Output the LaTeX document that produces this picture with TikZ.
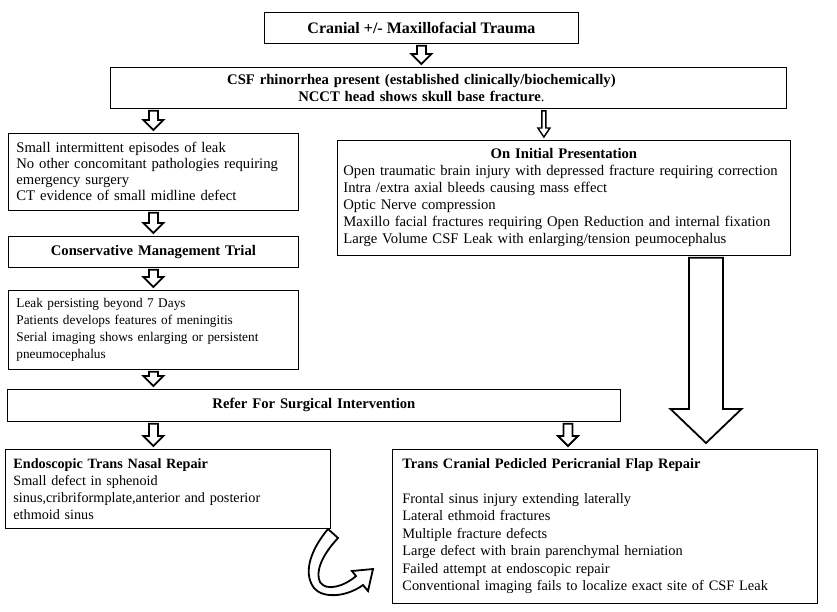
\documentclass[tikz,border=0pt]{standalone}
\usepackage{fontspec}
\setmainfont{Liberation Serif}
\usetikzlibrary{calc}

\tikzset{
  box/.style={draw, line width=0.8pt, anchor=north west, inner xsep=8pt, inner ysep=0pt, align=left},
  cbox/.style={box, align=center},
  blockarrow/.style n args={3}{draw, fill=white, line width=1.8pt, line join=miter,
    to path={let \p1=(\tikztostart), \p2=(\tikztotarget) in
      (\x1-#1,\y1-2pt) -- (\x1+#1,\y1-2pt) -- (\x1+#1,\y2+3pt+#3) -- (\x1+#2,\y2+3pt+#3)
      -- (\x1,\y2+3pt) -- (\x1-#2,\y2+3pt+#3) -- (\x1-#1,\y2+3pt+#3) -- cycle}},
  smallarrow/.style={blockarrow={4.5pt}{10pt}{10pt}},
}

\begin{document}
\begin{tikzpicture}[x=1pt, y=-1pt, font=\fontsize{14.67}{17}\selectfont]
   \useasboundingbox (0,0) rectangle (837,611);
   % top of the chart
   \path (264,12) node[cbox, minimum width=314pt, minimum height=31pt, font=\fontsize{16}{18}\selectfont] (trauma)
   {\textbf{Cranial +/- Maxillofacial Trauma}};
   \path (110,67) node[box, text width=660pt, minimum height=41pt] (csf)
   {\makebox[606pt]{\textbf{CSF rhinorrhea present (established clinically/biochemically)}}\\
    \makebox[606pt]{\textbf{NCCT head shows skull base fracture}.}};
   % left column
   \path (8,133) node[box, text width=274pt, minimum height=77pt, font=\fontsize{14.67}{16}\selectfont] (minor)
   {Small intermittent episodes of leak\\
    No other concomitant pathologies requiring\\
    emergency surgery\\
    CT evidence of small midline defect};
   \path (8,236) node[cbox, text width=274pt, minimum height=31pt] (conserv)
   {\textbf{Conservative Management Trial}};
   \path (8,290) node[box, text width=274pt, minimum height=79pt, font=\fontsize{13.3}{17}\selectfont] (persist)
   {Leak persisting beyond 7 Days\\
    Patients develops features of meningitis\\
    Serial imaging shows enlarging or persistent\\
    pneumocephalus};
   \path (7,389) node[cbox, text width=597pt, minimum height=32pt] (refer)
   {\textbf{Refer For Surgical Intervention}};
   % right column
   \path (337,140) node[box, inner xsep=6pt, text width=441pt, minimum height=115pt] (initial)
   {\makebox[441pt]{\textbf{On Initial Presentation}}\\
    Open traumatic brain injury with depressed fracture requiring correction\\
    Intra /extra axial bleeds causing mass effect\\
    Optic Nerve compression\\
    Maxillo facial fractures requiring Open Reduction and internal fixation\\
    Large Volume CSF Leak with enlarging/tension peumocephalus};
   % repairs
   \path (5,449) node[box, text width=309pt, minimum height=79pt, font=\fontsize{14.2}{17}\selectfont] (endo)
   {\textbf{Endoscopic Trans Nasal Repair}\\
    Small defect in sphenoid\\
    sinus,cribriformplate,anterior and posterior\\
    ethmoid sinus};
   \path (392,449) node[box, inner xsep=10pt, text width=405pt, minimum height=154pt, font=\fontsize{14.4}{17.5}\selectfont] (cranial)
   {\textbf{Trans Cranial Pedicled Pericranial Flap Repair}\\[17pt]
    Frontal sinus injury extending laterally\\
    Lateral ethmoid fractures\\
    Multiple fracture defects\\
    Large defect with brain parenchymal herniation\\
    Failed attempt at endoscopic repair\\
    Conventional imaging fails to localize exact site of CSF Leak};
   \coordinate (thin) at ($(initial.north)+(-20,0)$);
   \coordinate (crtop) at ($(cranial.north west)+(176,0)$);
   \coordinate (bigtip) at ($(cranial.north west)+(314,-3)$);
   % connectors
   \draw[smallarrow] (trauma.south) to (trauma.south |- csf.north);
   \draw[smallarrow] (csf.south -| minor.north) to (minor.north);
   \draw[blockarrow={2pt}{6pt}{9pt}, line width=1.4pt] (csf.south -| thin) to (thin);
   \draw[smallarrow] (minor.south) to (conserv.north);
   \draw[smallarrow] (conserv.south) to (persist.north);
   \draw[smallarrow] (persist.south) to (refer.north -| persist.north);
   \draw[smallarrow] (refer.south -| minor.south) to (endo.north -| minor.south);
   \draw[smallarrow] (refer.south -| crtop) to (crtop);
   \draw[blockarrow={17pt}{35.5pt}{34pt}] (initial.south -| bigtip) to (bigtip);
   % curved arrow
   \draw[line width=1.8pt, fill=white, line join=miter]
     (328,529) -- (338,538) .. controls (322,555) and (315,572) .. (320,582)
     .. controls (326,592) and (345,586) .. (356,576) -- (352,571) -- (373,569)
     -- (368,591) -- (363,585) .. controls (345,598) and (322,598) .. (314,588)
     .. controls (302,572) and (312,548) .. (328,529) -- cycle;
\end{tikzpicture}
\end{document}
